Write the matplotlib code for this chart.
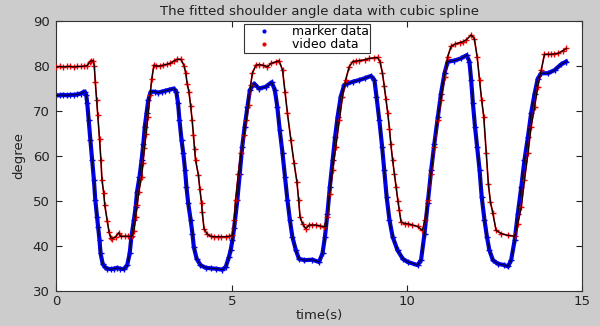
import matplotlib
matplotlib.use("Agg")
import matplotlib.pyplot as plt
from matplotlib.lines import Line2D

plt.rcParams['font.family'] = ['DejaVu Sans']

title = "The fitted shoulder angle data with cubic spline"
xlabel = "time(s)"
ylabel = "degree"
legend_labels = ["marker data", "video data"]
xticks = [0, 5, 10, 15]
yticks = [30, 40, 50, 60, 70, 80, 90]

marker_t = [0, 0.1, 0.2, 0.3, 0.4, 0.5, 0.6, 0.7, 0.76, 0.81, 0.85, 0.88, 0.92, 0.97, 1.02, 1.07,
            1.11, 1.16, 1.19, 1.23, 1.26, 1.32, 1.38, 1.45, 1.55, 1.64, 1.73, 1.82, 1.92, 2.02, 2.09,
            2.14, 2.21, 2.26, 2.30, 2.37, 2.43, 2.48, 2.52, 2.57, 2.62, 2.69, 2.8, 2.9, 3.0, 3.1, 3.2,
            3.35, 3.42, 3.47, 3.51, 3.57, 3.62, 3.67, 3.71, 3.76, 3.83, 3.88, 3.92, 4.0, 4.11, 4.26,
            4.4, 4.54, 4.73, 4.83, 4.92, 4.97, 5.02, 5.07, 5.16, 5.23, 5.30, 5.37, 5.45, 5.52, 5.64,
            5.78, 5.97, 6.14, 6.23, 6.30, 6.37, 6.45, 6.52, 6.59, 6.66, 6.73, 6.83, 6.92, 7.07, 7.30,
            7.49, 7.59, 7.66, 7.73, 7.80, 7.88, 7.95, 8.02, 8.11, 8.21, 8.30, 8.45, 8.64, 8.8, 8.97,
            9.07, 9.13, 9.21, 9.29, 9.35, 9.42, 9.50, 9.59, 9.73, 9.88, 10.02, 10.30, 10.40, 10.50,
            10.59, 10.69, 10.78, 10.88, 10.97, 11.07, 11.16, 11.35, 11.54, 11.70, 11.78, 11.83, 11.88,
            11.94, 12.0, 12.07, 12.13, 12.21, 12.28, 12.35, 12.45, 12.59, 12.78, 12.88, 12.97, 13.07,
            13.16, 13.26, 13.35, 13.45, 13.54, 13.64, 13.73, 13.83, 14.02, 14.21, 14.40, 14.54]
marker_deg = [73.4, 73.4, 73.5, 73.4, 73.5, 73.5, 73.6, 73.8, 74.1, 74.2, 73.5, 71.6, 67.9, 63.4, 59.0, 54.6,
              50.1, 46.4, 44.2, 41.2, 38.3, 36.0, 35.3, 34.9, 34.8, 34.9, 35.1, 34.9, 34.8, 35.7, 38.3,
              42.0, 45.7, 48.6, 52.0, 55.3, 59.0, 62.7, 66.4, 69.4, 72.3, 74.2, 74.2, 74.0, 74.2, 74.4, 74.6,
              74.9, 74.2, 71.6, 67.9, 63.4, 60.5, 56.8, 53.0, 49.4, 45.7, 42.7, 39.7, 37.1, 35.7, 35.1,
              35.0, 34.9, 34.7, 35.3, 37.5, 39.0, 41.2, 44.0, 50.1, 56.0, 62.0, 66.4, 70.9, 74.6, 76.0,
              74.9, 75.3, 76.3, 74.6, 70.9, 65.7, 60.5, 55.3, 50.1, 45.7, 42.0, 39.0, 37.1, 36.8, 36.9,
              36.4, 38.3, 42.0, 47.1, 53.1, 59.0, 64.2, 68.6, 73.1, 75.7, 76.0, 76.4, 76.8, 77.2, 77.7,
              76.8, 73.1, 67.9, 62.0, 56.8, 50.8, 45.7, 42.0, 39.0, 37.1, 36.4, 35.7, 36.8, 42.7,
              49.4, 56.8, 62.7, 68.6, 73.8, 78.3, 80.9, 81.1, 81.6, 82.3, 80.9, 76.8, 71.6,
              66.4, 62.0, 56.8, 50.9, 45.7, 42.0, 39.0, 36.8, 36.0, 35.7, 35.4, 36.8, 41.2,
              47.1, 53.1, 59.0, 64.2, 69.4, 73.8, 77.1, 78.3, 78.3, 79.0, 80.3, 80.9]

video_t = [0, 0.1, 0.2, 0.3, 0.4, 0.5, 0.6, 0.7, 0.8, 0.88, 0.95, 1.0, 1.05, 1.08, 1.11, 1.15, 1.18,
           1.23, 1.27, 1.30, 1.35, 1.38, 1.45, 1.50, 1.55, 1.59, 1.69, 1.78, 1.83, 1.95, 2.05, 2.16,
           2.21, 2.26, 2.30, 2.35, 2.43, 2.47, 2.51, 2.56, 2.61, 2.67, 2.72, 2.78, 2.85, 2.95, 3.05,
           3.15, 3.25, 3.35, 3.45, 3.55, 3.64, 3.69, 3.73, 3.78, 3.83, 3.87, 3.91, 3.94, 3.97, 4.05,
           4.09, 4.14, 4.16, 4.21, 4.3, 4.4, 4.5, 4.6, 4.7, 4.83, 4.92, 5.02, 5.07, 5.11, 5.19, 5.26,
           5.36, 5.42, 5.48, 5.54, 5.59, 5.69, 5.78, 5.88, 6.02, 6.12, 6.25, 6.35, 6.45, 6.52, 6.59,
           6.69, 6.78, 6.86, 6.91, 6.95, 7.02, 7.11, 7.21, 7.30, 7.40, 7.52, 7.64, 7.73, 7.80, 7.88,
           7.97, 8.07, 8.16, 8.25, 8.35, 8.45, 8.55, 8.64, 8.8, 8.93, 9.05, 9.16, 9.23, 9.30, 9.35,
           9.40, 9.45, 9.50, 9.54, 9.59, 9.64, 9.69, 9.74, 9.78, 9.83, 9.93, 10.02, 10.15, 10.30,
           10.44, 10.51, 10.59, 10.69, 10.78, 10.88, 10.97, 11.07, 11.16, 11.26, 11.38, 11.50, 11.60,
           11.69, 11.83, 11.92, 12.00, 12.07, 12.13, 12.19, 12.26, 12.32, 12.38, 12.45, 12.54, 12.69,
           12.88, 13.07, 13.16, 13.26, 13.35, 13.45, 13.54, 13.64, 13.73, 13.83, 13.92, 14.02, 14.11,
           14.20, 14.30, 14.45, 14.54]
video_deg = [79.7, 79.8, 79.7, 79.8, 79.8, 79.7, 79.8, 79.8, 79.9, 80.0, 80.8, 81.1, 81.1, 80.0, 76.3, 72.3, 69.0,
             63.7, 59.0, 54.6, 51.7, 49.0, 45.5, 43.1, 41.8, 41.6, 42.0, 42.9, 42.1, 42.1, 42.1, 42.1,
             43.2, 46.4, 49.0, 52.0, 55.3, 58.3, 61.6, 64.9, 68.6, 73.4, 77.0, 80.1, 79.9, 79.9, 80.1,
             80.3, 80.5, 81.0, 81.4, 81.4, 80.0, 78.3, 76.0, 74.2, 71.0, 68.0, 64.5, 61.5, 59.0, 55.7,
             52.7, 49.5, 47.5, 43.8, 42.6, 42.1, 42.0, 42.0, 42.0, 42.0, 42.1, 42.3, 45.7, 50.1, 56.0, 60.5,
             64.6, 67.9, 71.2, 75.7, 78.3, 80.1, 80.2, 80.1, 79.7, 80.5, 80.8, 81.1, 79.0, 74.2, 69.4,
             63.4, 58.3, 54.2, 50.1, 46.4, 44.9, 43.8, 44.6, 44.6, 44.6, 44.4, 44.2, 46.4, 51.6, 56.8,
             62.0, 67.9, 73.1, 76.8, 79.7, 80.9, 81.0, 81.1, 81.3, 81.6, 81.7, 81.8, 80.9, 78.3, 75.5,
             72.5, 69.5, 66.0, 62.5, 59.0, 56.0, 53.1, 50.0, 47.9, 45.3, 44.9, 44.9, 44.6, 44.3,
             43.4, 45.7, 50.1, 56.0, 62.0, 67.9, 72.3, 77.5, 82.0, 84.3, 84.8, 85.1, 85.3,
             85.7, 86.8, 86.0, 82.0, 76.8, 72.3, 68.6, 60.5, 53.8, 49.7, 47.2, 43.4, 42.7,
             42.3, 42.1, 44.9, 48.6, 54.6, 60.5, 66.4, 70.9, 75.3, 79.0, 82.5, 82.5, 82.5,
             82.6, 82.7, 83.3, 83.8]

fig = plt.figure(figsize=(6.0, 3.26), dpi=100, facecolor='#cccccc')
ax = fig.add_axes([0.094, 0.108, 0.8765, 0.829])
ax.set_facecolor('white')

ax.plot(marker_t, marker_deg, color='#0000ee', lw=3.0, marker='+', ms=4.5, mew=1.0,
        solid_joinstyle='round', zorder=2)
ax.plot(video_t, video_deg, color='#ee0000', lw=1.2, marker='+', ms=4.5, mew=1.0, zorder=3)
ax.plot(marker_t, marker_deg, color='black', lw=0.6, zorder=4)
ax.plot(video_t, video_deg, color='black', lw=0.8, zorder=4)

ax.set_xlim(0, 15)
ax.set_ylim(30, 90)
ax.set_xticks(xticks)
ax.set_yticks(yticks)
ax.tick_params(direction='in', top=True, right=True, length=4, width=0.8,
               labelsize=9.5, colors='#222222')
ax.tick_params(axis='y', pad=5)
ax.tick_params(axis='x', pad=3)
for s in ax.spines.values():
    s.set_linewidth(0.8)
    s.set_color('#333333')

ax.set_title(title, fontsize=9.5, color='#222222', pad=4)
ax.set_xlabel(xlabel, fontsize=9.5, color='#222222', labelpad=1)
ax.set_ylabel(ylabel, fontsize=9.5, color='#222222', labelpad=5)

handles = [Line2D([], [], color='#0000ee', marker='.', ls='none', ms=4),
           Line2D([], [], color='#ee0000', marker='.', ls='none', ms=4)]
leg = ax.legend(handles, legend_labels, loc='upper left', bbox_to_anchor=(0.357, 0.987),
                fontsize=9, frameon=True, fancybox=False, framealpha=1, edgecolor='#333333',
                borderpad=0.1, handlelength=2.9, handletextpad=0.8, labelspacing=0.0,
                borderaxespad=0)
leg.get_frame().set_linewidth(0.8)

fig.savefig('out.png', dpi=100, facecolor=fig.get_facecolor())
